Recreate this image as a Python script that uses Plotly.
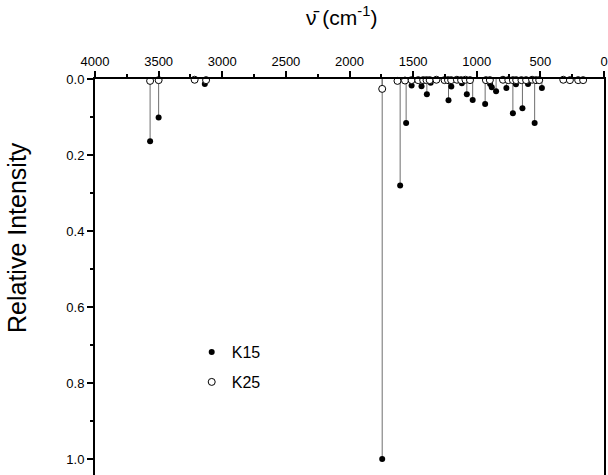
import plotly.graph_objects as go

# K15 (filled) frequencies (cm-1) and relative intensities
k15_freq = [3567, 3500, 3137, 1743, 1602, 1555, 1512, 1434, 1392, 1362, 1222, 1200, 1117,
            1078, 1032, 934, 895, 882, 848, 767, 716, 692, 641, 597, 545, 488, 203]
k15_int = [0.164, 0.101, 0.013, 1.0, 0.28, 0.116, 0.017, 0.019, 0.04, 0.01, 0.056, 0.02, 0.011,
           0.04, 0.055, 0.066, 0.013, 0.022, 0.032, 0.024, 0.09, 0.014, 0.077, 0.013, 0.116, 0.024, 0.004]

# K25 (open) frequencies (cm-1) and relative intensities
k25_freq = [3567, 3500, 3217, 3127, 1743, 1623, 1564, 1512, 1460, 1421, 1395, 1370, 1317, 1253,
            1226, 1201, 1156, 1123, 1089, 1053, 928, 897, 794, 752, 716, 690, 649, 612, 565,
            534, 509, 320, 268, 203, 164]
k25_int = [0.005, 0.003, 0.002, 0.003, 0.026, 0.005, 0.004, 0.003, 0.003, 0.003, 0.003, 0.003,
           0.002, 0.003, 0.003, 0.003, 0.002, 0.003, 0.002, 0.003, 0.003, 0.003, 0.002, 0.003,
           0.003, 0.003, 0.003, 0.003, 0.002, 0.003, 0.003, 0.002, 0.003, 0.003, 0.003]

x_ticks = [4000, 3500, 3000, 2500, 2000, 1500, 1000, 500, 0]
y_ticks = [0.0, 0.2, 0.4, 0.6, 0.8, 1.0]

stick_x, stick_y = [], []
for f, v in list(zip(k15_freq, k15_int)) + list(zip(k25_freq, k25_int)):
    stick_x += [f, f, None]
    stick_y += [0, v, None]

fig = go.Figure()
fig.add_trace(go.Scatter(x=stick_x, y=stick_y, mode="lines",
                         line=dict(color="#6e6e6e", width=1), showlegend=False,
                         hoverinfo="skip"))
fig.add_trace(go.Scatter(x=k15_freq, y=k15_int, mode="markers", name="K15",
                         legendgroup="a", cliponaxis=False,
                         marker=dict(color="black", size=6, symbol="circle")))
fig.add_trace(go.Scatter(x=k25_freq, y=k25_int, mode="markers", name="K25",
                         legendgroup="b", cliponaxis=False,
                         marker=dict(color="white", size=7, symbol="circle",
                                     line=dict(color="black", width=1))))

fig.update_layout(
    width=608, height=475,
    margin=dict(l=95, r=2, t=79, b=0),
    paper_bgcolor="white", plot_bgcolor="white",
    font=dict(family="Liberation Sans, Arial, sans-serif", color="black"),
    legend=dict(x=0.19, y=0.353, xanchor="left", yanchor="top",
                font=dict(size=16), tracegroupgap=6, traceorder="grouped",
                bgcolor="rgba(0,0,0,0)"),
    xaxis=dict(range=[4000, 0], side="top", tickvals=x_ticks,
               ticktext=[str(t) for t in x_ticks], ticks="outside", ticklen=6,
               tickwidth=1.5, tickcolor="black", showline=True, linecolor="black",
               linewidth=2, showgrid=False, zeroline=False,
               tickfont=dict(size=13), ticklabeloverflow="allow",
               minor=dict(dtick=250, ticks="outside", ticklen=3, tickcolor="black",
                          showgrid=False)),
    yaxis=dict(range=[1.042, 0], tickvals=y_ticks,
               ticktext=[f"{t:.1f}" for t in y_ticks], ticks="outside", ticklen=6,
               tickwidth=1.5, tickcolor="black", showline=True, linecolor="black",
               linewidth=2, mirror=True, showgrid=False, zeroline=False,
               tickfont=dict(size=13),
               minor=dict(dtick=0.1, ticks="outside", ticklen=3, tickcolor="black",
                          showgrid=False)),
    annotations=[
        dict(text="\u03bd\u0304 (cm<sup>-1</sup>)", xref="paper", yref="paper",
             x=0.485, y=1.158, xanchor="center", yanchor="middle",
             showarrow=False, font=dict(size=21)),
        dict(text="Relative Intensity", xref="paper", yref="paper",
             x=-0.152, y=0.60, xanchor="center", yanchor="middle", textangle=-90,
             showarrow=False, font=dict(size=25)),
    ],
)

fig.write_html(
    "out.html",
    config={"displayModeBar": False},
    post_script="document.body.style.margin='0';document.body.style.overflow='hidden';",
)
